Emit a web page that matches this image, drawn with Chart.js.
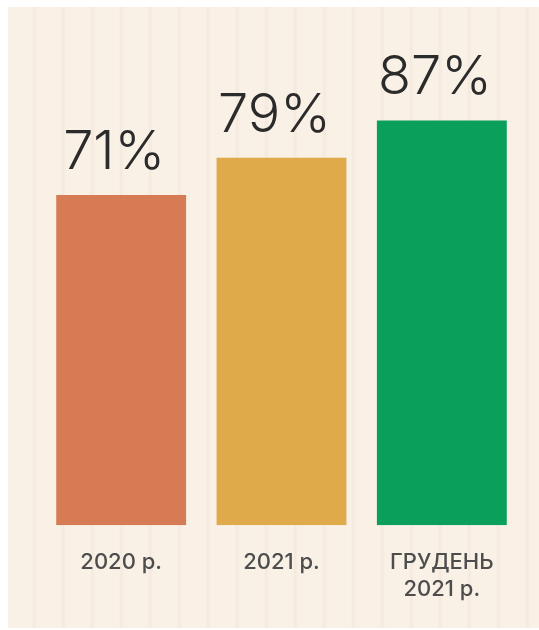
<!DOCTYPE html>
<html>
<head>
<meta charset="utf-8">
<script src="https://cdn.jsdelivr.net/npm/chart.js@4"></script>
<style>
body{margin:0;background:#fff;width:539px;height:630px;overflow:hidden;position:relative;}
#panel{position:absolute;left:8px;top:7px;width:531px;height:621px;
background-color:#f9f0e6;
background-image:repeating-linear-gradient(90deg,rgba(0,0,0,0) 0px,rgba(0,0,0,0) 24px,rgba(150,120,90,0.06) 26px,rgba(0,0,0,0) 29px);}
#wrap{position:absolute;left:0;top:0;width:539px;height:630px;}
</style>
</head>
<body>
<div id="panel"></div>
<div id="wrap"><canvas id="chart"></canvas></div>
<script>
const categories = ["2020 р.", "2021 р.", ["ГРУДЕНЬ", "2021 р."]];
const values = [71, 79, 87];
const valueLabels = ["71%", "79%", "87%"];
const barColors = ["#d77b55", "#dfab4a", "#0aa05b"];

/* percent labels above the bars */
const valueLabelPlugin = {
id:"valueLabels",
afterDatasetsDraw(chart){
const ctx = chart.ctx;
const meta = chart.getDatasetMeta(0);
ctx.save();
ctx.font = "300 54px Inter";
ctx.fillStyle = "#2b2b2b";
ctx.textAlign = "center";
ctx.textBaseline = "alphabetic";
meta.data.forEach((bar, i)=>{
ctx.fillText(valueLabels[i], bar.x - 7, bar.y - 26);
});
ctx.restore();
}
};

new Chart(document.getElementById("chart"),{
type:"bar",
data:{
labels:categories,
datasets:[{
data:values,
backgroundColor:barColors,
borderWidth:0,
barPercentage:0.81,
categoryPercentage:1
}]
},
options:{
responsive:true,
maintainAspectRatio:false,
animation:false,
layout:{padding:{left:41,right:17,top:60,bottom:11}},
plugins:{legend:{display:false},tooltip:{enabled:false}},
scales:{
x:{
grid:{display:false},
border:{display:false},
ticks:{
color:"#4d4d4d",
padding:16,
font:{family:"Inter",size:22,weight:"500",lineHeight:1.22}
}
},
y:{
display:false,
min:0,
max:100
}
}
},
plugins:[valueLabelPlugin]
});
</script>
</body>
</html>
